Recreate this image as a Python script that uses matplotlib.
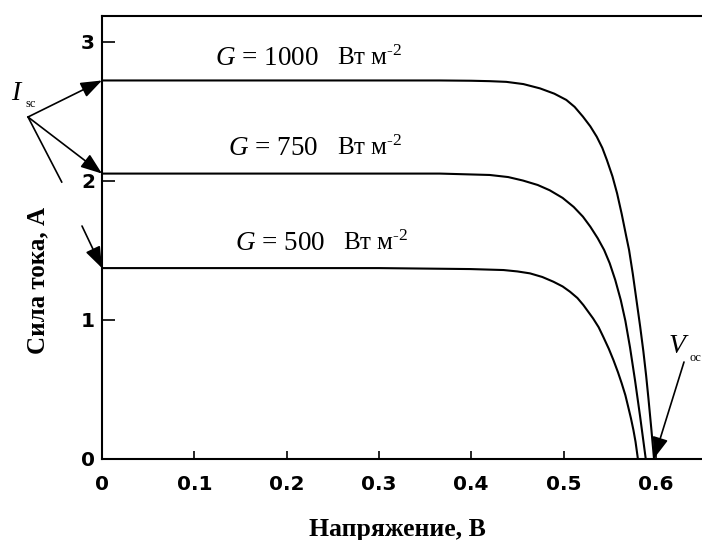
import matplotlib
matplotlib.use("Agg")
import matplotlib.pyplot as plt
from matplotlib.lines import Line2D

# ---- data ----
irradiance = [1000, 750, 500]

V_1000 = [0.0, 0.1, 0.2, 0.3, 0.366, 0.40, 0.42, 0.438, 0.4565, 0.4745, 0.49, 0.503,
          0.512, 0.521, 0.529, 0.536, 0.542, 0.547, 0.553, 0.558, 0.563, 0.568,
          0.571, 0.575, 0.579, 0.583, 0.5865, 0.5895, 0.592, 0.595, 0.598]
I_1000 = [2.72, 2.72, 2.72, 2.72, 2.72, 2.718, 2.715, 2.71, 2.694, 2.663, 2.625, 2.58,
          2.53, 2.46, 2.39, 2.315, 2.235, 2.147, 2.03, 1.908, 1.76, 1.596,
          1.50, 1.33, 1.14, 0.95, 0.77, 0.595, 0.43, 0.22, 0.0]

V_750 = [0.0, 0.1, 0.2, 0.3, 0.366, 0.42, 0.44, 0.456, 0.472, 0.485, 0.499, 0.511,
         0.521, 0.529, 0.537, 0.544, 0.550, 0.556, 0.562, 0.567, 0.572, 0.5775,
         0.583, 0.589]
I_750 = [2.05, 2.05, 2.05, 2.05, 2.05, 2.04, 2.025, 2.0, 1.968, 1.93, 1.875, 1.81,
         1.74, 1.668, 1.585, 1.50, 1.405, 1.285, 1.14, 0.99, 0.80, 0.56,
         0.30, 0.0]

V_500 = [0.0, 0.1, 0.2, 0.3, 0.399, 0.435, 0.45, 0.4637, 0.477, 0.489, 0.499, 0.507,
         0.515, 0.5215, 0.532, 0.538, 0.543, 0.549, 0.554, 0.559, 0.563, 0.567,
         0.570, 0.573, 0.5757, 0.578, 0.5805]
I_500 = [1.37, 1.37, 1.37, 1.37, 1.363, 1.356, 1.346, 1.332, 1.306, 1.272, 1.238, 1.200,
         1.155, 1.104, 1.008, 0.945, 0.876, 0.79, 0.709, 0.62, 0.541, 0.455,
         0.373, 0.29, 0.205, 0.12, 0.0]

x_ticks = [0, 0.1, 0.2, 0.3, 0.4, 0.5, 0.6]
x_tick_labels = ["0", "0.1", "0.2", "0.3", "0.4", "0.5", "0.6"]
y_ticks = [0, 1, 2, 3]
y_tick_labels = ["0", "1", "2", "3"]

x_label = "Напряжение, В"
y_label = "Сила тока, А"
unit_text = "Вт м"

curves = [(V_1000, I_1000), (V_750, I_750), (V_500, I_500)]

# ---- figure ----
plt.rcParams['mathtext.fontset'] = 'custom'
plt.rcParams['mathtext.rm'] = 'Liberation Serif'
plt.rcParams['mathtext.it'] = 'Liberation Serif:italic'

W, H = 702, 540
fig = plt.figure(figsize=(W / 100, H / 100), dpi=100)
fig.patch.set_facecolor('white')

def fp(x, y):
    """figure pixel (from top-left) -> figure fraction"""
    return (x / W, 1 - y / H)

ax_left, ax_top, ax_bottom = 102, 15.7, 458.5
ax = fig.add_axes([ax_left / W, (H - ax_bottom) / H, (W - ax_left) / W, (ax_bottom - ax_top) / H])
ax.set_xlim(0, 0.65)
ax.set_ylim(0, 3.186)

for V, I in curves:
    ax.plot(V, I, color='black', lw=1.5, solid_capstyle='round', solid_joinstyle='round')

for s in ['left', 'bottom', 'top']:
    ax.spines[s].set_linewidth(1.5)
ax.spines['right'].set_visible(False)

ax.set_xticks(x_ticks)
ax.set_xticklabels(x_tick_labels)
ax.set_yticks(y_ticks)
ax.set_yticklabels(y_tick_labels)
ax.tick_params(axis='x', direction='in', length=6, width=1.2, pad=12)
ax.tick_params(axis='y', direction='in', length=9, width=1.2, pad=5)
for lab in ax.get_xticklabels() + ax.get_yticklabels():
    lab.set_fontfamily('DejaVu Sans')
    lab.set_fontweight('bold')
    lab.set_fontsize(14.5)

serif = 'Liberation Serif'

# axis labels
fig.text(*fp(397, 536), x_label, ha='center', va='baseline',
         family=serif, weight='bold', fontsize=18.5)
fig.text(*fp(38, 280), y_label, ha='center', va='center', rotation=90,
         family=serif, weight='bold', fontsize=18)

# irradiance labels
g_pos = [(215, 65, 337), (228, 155, 337), (235, 250, 343)]
for g, (xg, yb, xu) in zip(irradiance, g_pos):
    fig.text(*fp(xg, yb), f"$G$ = {g}", ha='left', va='baseline',
             family=serif, fontsize=19.5)
    fig.text(*fp(xu, yb), unit_text + r"$^{\text{-2}}$", ha='left', va='baseline',
             family=serif, fontsize=18)

# I_sc label
fig.text(*fp(11, 100), "I", ha='left', va='baseline', family=serif,
         style='italic', fontsize=20)
fig.text(*fp(25, 107), "sc", ha='left', va='baseline', family=serif, fontsize=9)

# V_oc label
fig.text(*fp(669, 353), "V", ha='left', va='baseline', family=serif,
         style='italic', fontsize=20)
fig.text(*fp(689, 361), "oc", ha='left', va='baseline', family=serif, fontsize=9)

arrow_kw = dict(arrowstyle='-|>,head_length=0.65,head_width=0.24', color='black',
                lw=1.2, shrinkA=0, shrinkB=0, mutation_scale=20)
origin = fp(28, 117)
ax.annotate("", xy=(0, I_1000[0]), xycoords='data', xytext=origin,
            textcoords='figure fraction', arrowprops=arrow_kw, annotation_clip=False)
ax.annotate("", xy=(0, I_750[0]), xycoords='data', xytext=origin,
            textcoords='figure fraction', arrowprops=arrow_kw, annotation_clip=False)
# third arrow is interrupted by the y-label area
fig.add_artist(Line2D([origin[0], 61.7 / W], [origin[1], 1 - 182 / H],
                      transform=fig.transFigure, color='black', lw=1.2))
ax.annotate("", xy=(0, I_500[0]), xycoords='data', xytext=fp(82, 226),
            textcoords='figure fraction', arrowprops=arrow_kw, annotation_clip=False)

# V_oc arrow
ax.annotate("", xy=(V_1000[-1], 0), xycoords='data', xytext=fp(684, 362),
            textcoords='figure fraction', arrowprops=arrow_kw, annotation_clip=False)

fig.savefig("out.png", dpi=100, facecolor='white')
